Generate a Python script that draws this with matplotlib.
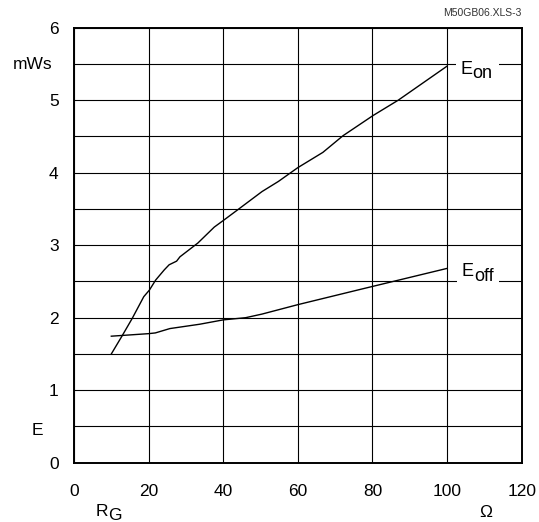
import matplotlib
matplotlib.use("Agg")
import matplotlib.pyplot as plt
from matplotlib.transforms import offset_copy, blended_transform_factory, Bbox
from matplotlib.patches import Rectangle

plt.rcParams['font.family'] = ['Liberation Sans', 'DejaVu Sans']

# Data
eon_x = [10, 12.9, 15.6, 18.7, 20.2, 21.9, 24.2, 25.5, 27.5, 28.4, 33.2, 37.6, 40, 43.4,
         50.4, 54.8, 60, 66.7, 72.1, 80.2, 86.9, 100]
eon_y = [1.5, 1.75, 1.99, 2.29, 2.38, 2.52, 2.66, 2.73, 2.78, 2.84, 3.03, 3.25, 3.34, 3.47,
         3.74, 3.88, 4.07, 4.28, 4.51, 4.79, 5.0, 5.47]
eoff_x = [10, 20, 21.8, 25.7, 33.7, 40, 46, 50.4, 60, 77.5, 100]
eoff_y = [1.745, 1.78, 1.79, 1.85, 1.91, 1.97, 2.0, 2.05, 2.18, 2.40, 2.68]

x_ticks = [0, 20, 40, 60, 80, 100, 120]
y_ticks = [0, 1, 2, 3, 4, 5, 6]
y_grid = [0.5, 1.5, 2.5, 3.5, 4.5, 5.5]

W, H = 539, 522
fig = plt.figure(figsize=(W / 100, H / 100), dpi=100)
L, R, T, B = 74, 521.7, 27.7, 462.7
ax = fig.add_axes([L / W, 1 - B / H, (R - L) / W, (B - T) / H])
ax.set_xlim(0, 120)
ax.set_ylim(0, 6)

ax.set_xticks(x_ticks)
ax.set_yticks(y_ticks)
ax.set_yticks(y_grid, minor=True)
ax.tick_params(axis='both', which='both', length=0, labelsize=12.5)
ax.tick_params(axis='y', pad=11)
ax.tick_params(axis='x', pad=15)
ax.grid(True, which='major', color='black', lw=0.8)
ax.grid(True, which='minor', axis='y', color='black', lw=0.8)
ax.set_axisbelow(True)
for s in ax.spines.values():
    s.set_linewidth(1.4)
    s.set_zorder(5)

ax.plot(eon_x, eon_y, color='black', lw=1.0, zorder=3)
ax.plot(eoff_x, eoff_y, color='black', lw=1.0, zorder=3)

# curve labels: "E" with same-size lowered subscript
labels = []
def curve_label(x, y, sub):
    t1 = ax.text(x, y, 'E', fontsize=13, ha='left', va='baseline', zorder=4)
    tr = offset_copy(ax.transData, fig=fig, x=12.2 * 72 / 100, y=-4.5 * 72 / 100, units='points')
    t2 = ax.text(x, y, sub, fontsize=13, ha='left', va='baseline', transform=tr, zorder=4)
    labels.append((t1, t2))

curve_label(103.6, 5.366, 'on')
curve_label(103.9, 2.57, 'off')

# axis units / labels
btr = blended_transform_factory(fig.transFigure, ax.transData)
ax.text(52 / W, 5.49, 'mWs', fontsize=12.5, ha='right', va='center', transform=btr)
ax.text(37.5 / W, 0.45, 'E', fontsize=12.5, ha='center', va='center', transform=btr)

fig.text(96 / W, 1 - 516 / H, 'R', fontsize=12.5, ha='left', va='baseline')
fig.text(108.5 / W, 1 - 520.5 / H, 'G', fontsize=12.5, ha='left', va='baseline')
fig.text(486 / W, 1 - 512.8 / H, 'Ω', fontsize=12.5, ha='center', va='center')

fig.text(R / W, 1 - 12.7 / H, 'M50GB06.XLS-3', fontsize=7.5, ha='right', va='center',
         color='#333333')

# white background behind each curve label, derived from the text extents
fig.canvas.draw()
rend = fig.canvas.get_renderer()
for t1, t2 in labels:
    bb = Bbox.union([t1.get_window_extent(rend), t2.get_window_extent(rend)])
    x0, y0, x1, y1 = bb.x0 - 5, bb.y0 - 1, bb.x1 + 6, bb.y1 + 1
    ax.add_patch(Rectangle((x0, y0), x1 - x0, y1 - y0, transform=None,
                           facecolor='white', edgecolor='none', zorder=3.5))

fig.savefig('out.png', dpi=100)
